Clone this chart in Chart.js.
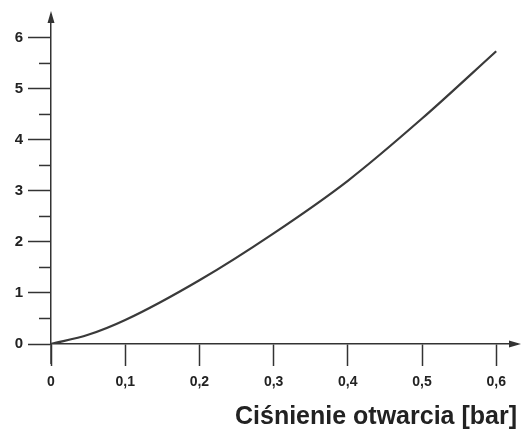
<!DOCTYPE html>
<html>
<head>
<meta charset="utf-8">
<script src="https://cdn.jsdelivr.net/npm/chart.js@4.4.1/dist/chart.umd.min.js"></script>
<style>
  html, body { margin: 0; padding: 0; background: #fff; }
  #wrap { width: 528px; height: 432px; }
</style>
</head>
<body>
<div id="wrap"><canvas id="c"></canvas></div>
<script>
// values
const PRESSURE = [0, 0.05, 0.1, 0.2, 0.3, 0.4, 0.5, 0.6];
const VALUES   = [0, 0.18, 0.47, 1.25, 2.17, 3.2, 4.42, 5.74];
const X_TICKS  = [0, 0.1, 0.2, 0.3, 0.4, 0.5, 0.6];
const Y_TICKS  = [0, 1, 2, 3, 4, 5, 6];
const Y_MINOR  = [0.5, 1.5, 2.5, 3.5, 4.5, 5.5];

const INK = '#333';

// arrows at the axis ends + half-unit minor ticks
const axisExtras = {
    id: 'axisExtras',
    afterDraw(chart) {
        const ctx = chart.ctx;
        const a = chart.chartArea;
        const y = chart.scales.y;
        ctx.save();
        ctx.strokeStyle = INK;
        ctx.fillStyle = INK;
        ctx.lineWidth = 1.5;
        Y_MINOR.forEach(v => {
            const py = y.getPixelForValue(v);
            ctx.beginPath();
            ctx.moveTo(a.left - 12, py);
            ctx.lineTo(a.left, py);
            ctx.stroke();
        });
        // y axis continues a bit below zero
        ctx.beginPath();
        ctx.moveTo(a.left, a.bottom);
        ctx.lineTo(a.left, a.bottom + 20);
        ctx.stroke();
        // arrow heads
        ctx.beginPath();
        ctx.moveTo(a.left, a.top - 4);
        ctx.lineTo(a.left - 3.5, a.top + 8);
        ctx.lineTo(a.left + 3.5, a.top + 8);
        ctx.closePath();
        ctx.fill();
        ctx.beginPath();
        ctx.moveTo(a.right + 4, a.bottom);
        ctx.lineTo(a.right - 8, a.bottom - 3.5);
        ctx.lineTo(a.right - 8, a.bottom + 3.5);
        ctx.closePath();
        ctx.fill();
        ctx.restore();
    }
};

new Chart(document.getElementById('c'), {
    type: 'line',
    data: {
        datasets: [{
            data: PRESSURE.map((p, i) => ({ x: p, y: VALUES[i] })),
            borderColor: '#3a3a3a',
            borderWidth: 2.2,
            pointRadius: 0,
            fill: false,
            cubicInterpolationMode: 'monotone'
        }]
    },
    options: {
        responsive: true,
        maintainAspectRatio: false,
        animation: false,
        layout: { padding: { left: 0, right: 11, top: 15, bottom: 0 } },
        plugins: { legend: { display: false }, tooltip: { enabled: false } },
        scales: {
            x: {
                type: 'linear',
                min: 0,
                max: 0.628,
                afterBuildTicks: s => { s.ticks = X_TICKS.map(v => ({ value: v })); },
                afterFit: s => { s.height = 88; },
                ticks: {
                    color: '#222',
                    padding: 8,
                    maxRotation: 0,
                    font: { family: 'Liberation Sans', size: 14, weight: 'bold' },
                    callback: v => String(v).replace('.', ',')
                },
                grid: { drawOnChartArea: false, tickLength: 22, tickColor: INK, tickWidth: 1.5 },
                border: { color: INK, width: 1.5 },
                title: {
                    display: true,
                    text: 'Ciśnienie otwarcia [bar]',
                    align: 'end',
                    color: '#222',
                    font: { family: 'Liberation Sans', size: 25, weight: 'bold' },
                    padding: { top: 4, bottom: 0 }
                }
            },
            y: {
                min: 0,
                max: 6.45,
                afterBuildTicks: s => { s.ticks = Y_TICKS.map(v => ({ value: v })); },
                afterFit: s => { s.width = 51; },
                ticks: {
                    color: '#222',
                    padding: 5,
                    font: { family: 'Liberation Sans', size: 15, weight: 'bold' }
                },
                grid: { drawOnChartArea: false, tickLength: 23, tickColor: INK, tickWidth: 1.5 },
                border: { color: INK, width: 1.5 }
            }
        }
    },
    plugins: [axisExtras]
});
</script>
</body>
</html>
